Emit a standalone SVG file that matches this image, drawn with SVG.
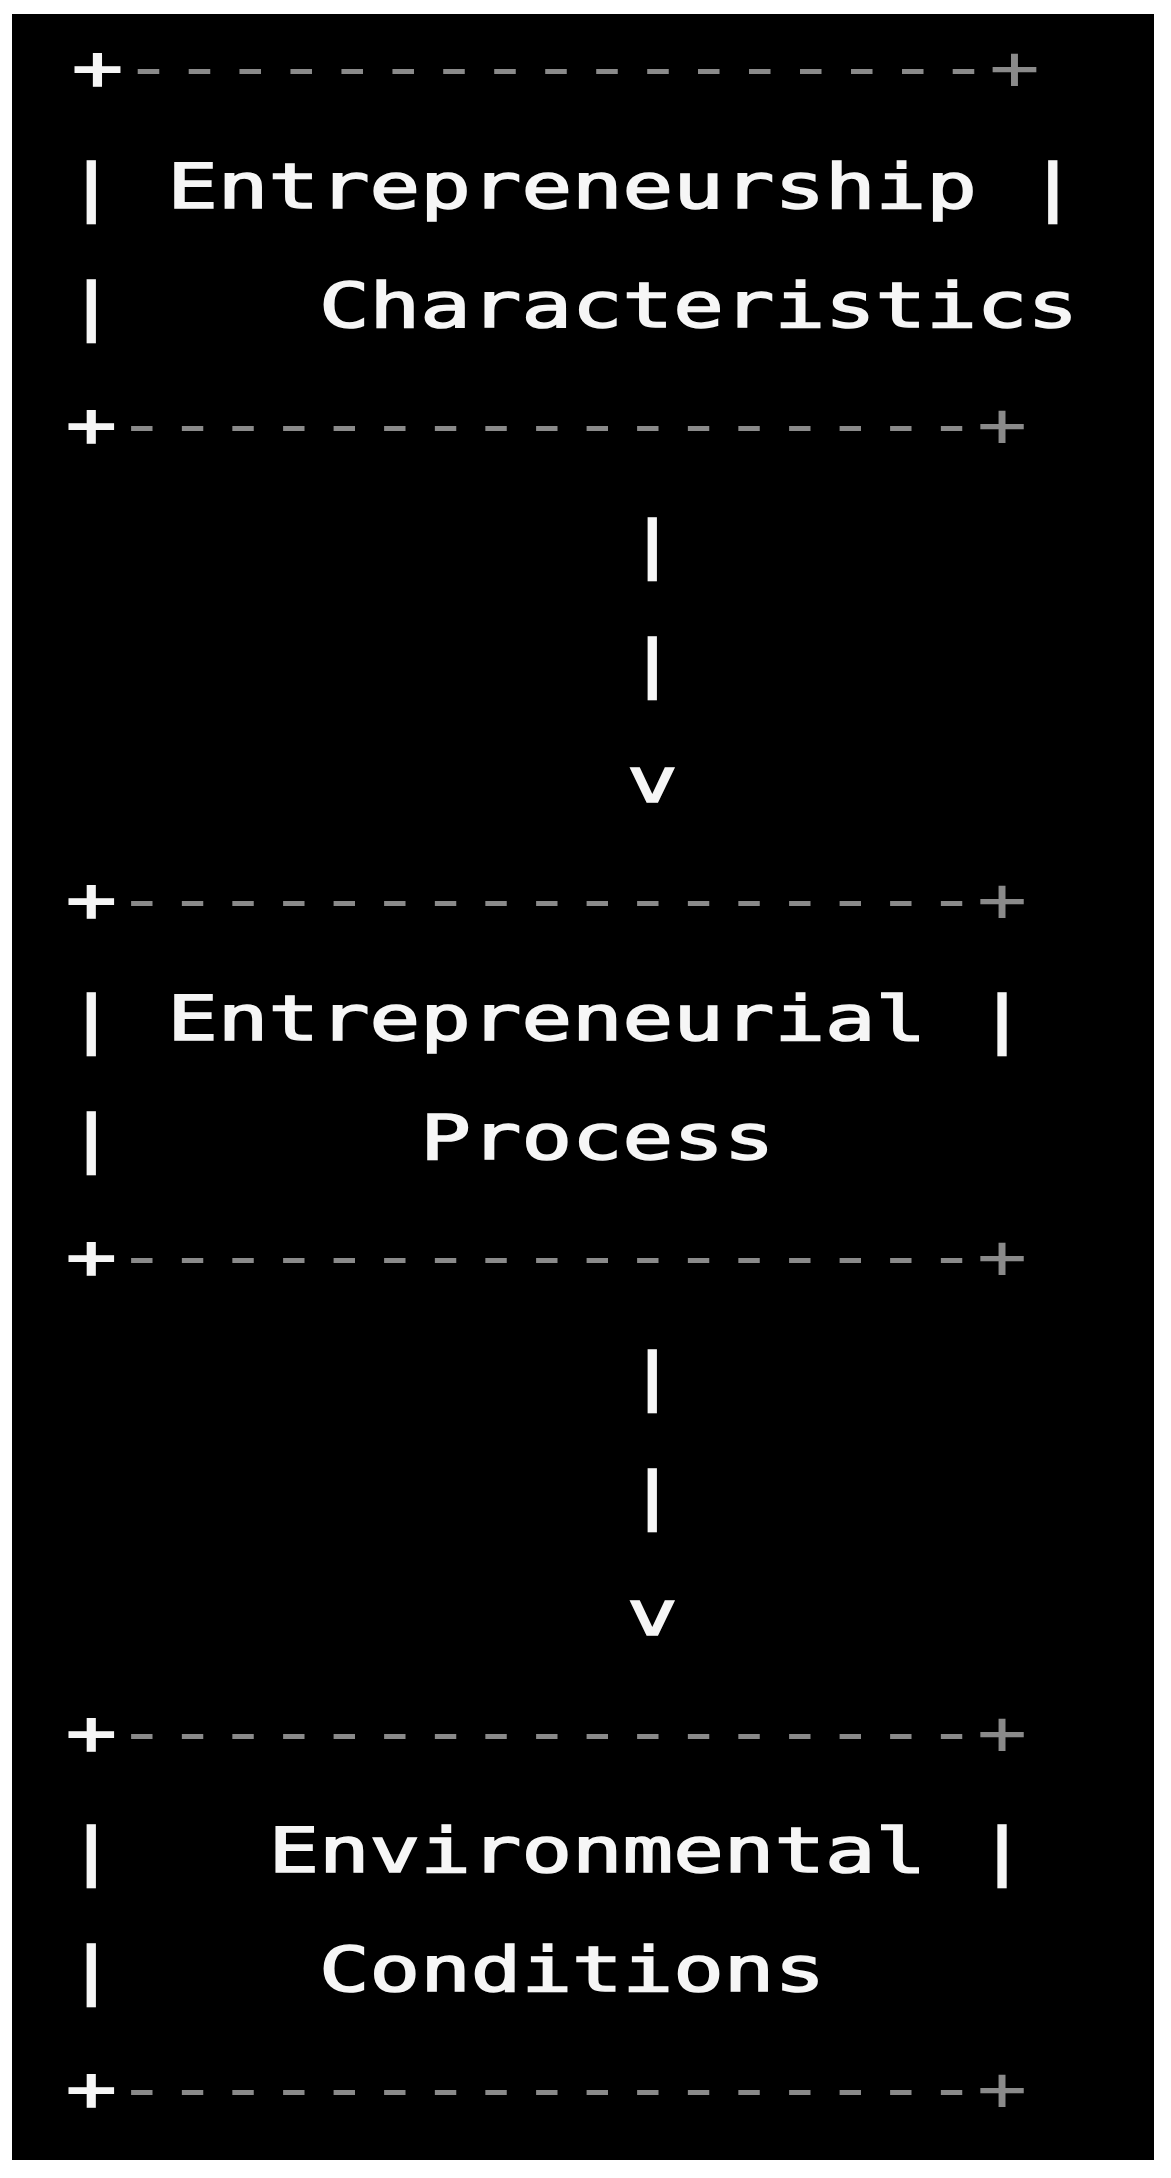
<svg xmlns="http://www.w3.org/2000/svg" width="1171" height="2178" viewBox="0 0 1171 2178">
<style>
  .t { font-family: "DejaVu Sans Mono", "Liberation Mono", monospace; font-size: 62px; fill: #f6f6f6; stroke: #f6f6f6; stroke-width: 1.6px; white-space: pre; }
  .d { fill: #8a8a8a; stroke: none; }
</style>
<rect x="0" y="0" width="1171" height="2178" fill="#ffffff"/>
<rect x="12" y="14" width="1142" height="2146" fill="#000000"/>

<g id="node-characteristics">
  <text class="t" x="72" y="89" textLength="968" lengthAdjust="spacingAndGlyphs">+<tspan class="d">-----------------+</tspan></text>
  <text class="t" x="66" y="208" textLength="1012" lengthAdjust="spacingAndGlyphs">| Entrepreneurship |</text>
  <text class="t" x="66" y="327" textLength="1012" lengthAdjust="spacingAndGlyphs">|    Characteristics</text>
  <text class="t" x="66" y="446" textLength="961.4" lengthAdjust="spacingAndGlyphs">+<tspan class="d">-----------------+</tspan></text>
</g>

<g id="node-process">
  <text class="t" x="66" y="921" textLength="961.4" lengthAdjust="spacingAndGlyphs">+<tspan class="d">-----------------+</tspan></text>
  <text class="t" x="66" y="1040" textLength="961.4" lengthAdjust="spacingAndGlyphs">| Entrepreneurial |</text>
  <text class="t" x="66" y="1159" textLength="708.4" lengthAdjust="spacingAndGlyphs">|      Process</text>
  <text class="t" x="66" y="1278" textLength="961.4" lengthAdjust="spacingAndGlyphs">+<tspan class="d">-----------------+</tspan></text>
</g>

<g id="node-environment">
  <text class="t" x="66" y="1754" textLength="961.4" lengthAdjust="spacingAndGlyphs">+<tspan class="d">-----------------+</tspan></text>
  <text class="t" x="66" y="1872" textLength="961.4" lengthAdjust="spacingAndGlyphs">|   Environmental |</text>
  <text class="t" x="66" y="1991" textLength="759" lengthAdjust="spacingAndGlyphs">|    Conditions</text>
  <text class="t" x="66" y="2110" textLength="961.4" lengthAdjust="spacingAndGlyphs">+<tspan class="d">-----------------+</tspan></text>
</g>

<g id="connectors">
  <g id="arrow-1">
    <text class="t" x="627" y="565" textLength="50.6" lengthAdjust="spacingAndGlyphs">|</text>
    <text class="t" x="627" y="684" textLength="50.6" lengthAdjust="spacingAndGlyphs">|</text>
    <text class="t" x="627" y="802" textLength="50.6" lengthAdjust="spacingAndGlyphs">v</text>
  </g>
  <g id="arrow-2">
    <text class="t" x="627" y="1397" textLength="50.6" lengthAdjust="spacingAndGlyphs">|</text>
    <text class="t" x="627" y="1516" textLength="50.6" lengthAdjust="spacingAndGlyphs">|</text>
    <text class="t" x="627" y="1635" textLength="50.6" lengthAdjust="spacingAndGlyphs">v</text>
  </g>
</g>
</svg>
